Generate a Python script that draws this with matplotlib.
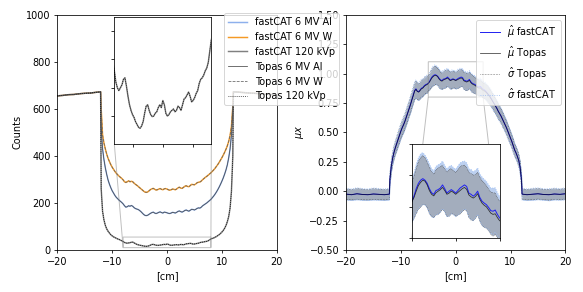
import numpy as np
import matplotlib

matplotlib.use("Agg")

import matplotlib.pyplot as plt


# positions across the detector [cm]
open_left_cm = [-20, -19, -18, -17, -16, -15, -14, -13, -12.1]
open_right_cm = [12.1, 13, 14, 15, 16, 17, 18, 19, 20]
phantom_cm = np.arange(-12.0, 12.001, 0.25)

# detector counts, open field either side of the phantom
counts_open_left = [655, 657, 660, 661, 664, 666, 667, 670, 672]
counts_open_right = [672, 671, 669, 667, 666, 664, 662, 661, 659]

# detector counts behind the phantom, -12 .. 12 cm every 0.25 cm
counts_al = [
    520, 430, 385, 350, 322, 298, 280, 265, 252,
    242, 232, 224, 218, 212, 207, 202, 196, 188, 182,
    184, 188, 186, 189, 186, 180, 176, 174, 172,
    168, 163, 157, 151, 147, 146, 148, 152, 156, 159,
    161, 157, 155, 157, 160, 162, 159, 157, 161, 160,
    158, 156, 155, 157, 160, 159, 157, 160, 164, 166,
    163, 161, 164, 168, 170, 167, 165, 169, 173, 172, 170,
    173, 177, 179, 178, 182, 188, 192, 196, 200, 205,
    210, 215, 222, 229, 237, 246, 256, 267, 279, 292,
    306, 322, 340, 362, 392, 430, 490, 600,
]
counts_w = [
    600, 490, 455, 430, 408, 390, 376, 363, 352,
    343, 334, 326, 320, 314, 309, 304, 298, 290, 287,
    290, 294, 290, 292, 290, 284, 279, 275, 270,
    265, 260, 255, 250, 246, 245, 247, 252, 257, 260,
    262, 258, 255, 256, 259, 261, 258, 256, 260, 261,
    259, 256, 254, 256, 259, 258, 256, 259, 264, 267,
    263, 262, 266, 271, 273, 270, 269, 274, 279, 278, 277,
    281, 286, 288, 289, 293, 299, 304, 309, 313, 318,
    323, 328, 334, 340, 347, 355, 363, 372, 382, 392,
    403, 415, 428, 443, 462, 487, 525, 610,
]
counts_kvp = [
    260, 165, 128, 105, 90, 80, 72, 65, 60,
    56, 53, 50, 47, 45, 42, 39, 36, 32, 30,
    29, 30, 31, 33, 33.5, 30.5, 27, 24, 22,
    20.5, 19.5, 18, 17, 16, 15.7, 16.5, 18, 21, 23.5,
    24, 22, 20.5, 19.8, 20, 21, 21.5, 23, 24, 23,
    25.5, 24, 21, 20, 20.5, 21.5, 22, 22.5, 21.5, 22,
    23.5, 23, 22, 24, 26, 26.5, 27.5, 28.5, 27, 25, 25.5,
    26.5, 28, 29, 31.5, 33, 33.5, 34.5, 36, 37, 39,
    43, 47, 49, 51, 54, 57, 61, 65, 70, 76,
    83, 92, 104, 120, 142, 178, 250, 400,
]

# attenuation line integral
mu_open_left = [-0.025, -0.03, -0.022, -0.028, -0.03, -0.024, -0.027, -0.03, -0.025]
mu_open_right = [-0.025, -0.03, -0.026, -0.022, -0.028, -0.03, -0.024, -0.027, -0.022]
sigma_open_topas = [0.045, 0.044, 0.046, 0.045, 0.044, 0.046, 0.045, 0.044, 0.045]
sigma_open_fastcat = [0.05, 0.049, 0.051, 0.05, 0.049, 0.051, 0.05, 0.049, 0.05]

mu_fastcat = [
    0.10, 0.21, 0.28, 0.33, 0.37, 0.405, 0.44, 0.475, 0.51,
    0.54, 0.565, 0.595, 0.63, 0.665, 0.70, 0.735, 0.775, 0.815, 0.855,
    0.87, 0.85, 0.845, 0.86, 0.875, 0.88, 0.895, 0.905, 0.91,
    0.918, 0.935, 0.958, 0.975, 0.985, 0.99, 0.985, 0.975, 0.958, 0.945,
    0.94, 0.952, 0.955, 0.96, 0.97, 0.958, 0.944, 0.95, 0.955, 0.95,
    0.944, 0.952, 0.96, 0.965, 0.97, 0.965, 0.944, 0.94, 0.934, 0.94,
    0.95, 0.93, 0.918, 0.912, 0.907, 0.898, 0.888, 0.886, 0.89, 0.876, 0.865,
    0.86, 0.848, 0.834, 0.82, 0.805, 0.785, 0.765, 0.745, 0.725, 0.705,
    0.68, 0.66, 0.64, 0.615, 0.59, 0.565, 0.54, 0.51, 0.48, 0.45,
    0.42, 0.385, 0.35, 0.325, 0.295, 0.26, 0.2, 0.09,
]
mu_topas = [
    0.10, 0.21, 0.28, 0.33, 0.37, 0.405, 0.44, 0.475, 0.51,
    0.54, 0.565, 0.595, 0.63, 0.665, 0.70, 0.735, 0.775, 0.81, 0.85,
    0.865, 0.848, 0.842, 0.855, 0.87, 0.876, 0.89, 0.9, 0.905,
    0.915, 0.93, 0.95, 0.968, 0.978, 0.985, 0.982, 0.97, 0.952, 0.94,
    0.935, 0.945, 0.95, 0.955, 0.962, 0.952, 0.94, 0.944, 0.95, 0.946,
    0.94, 0.946, 0.952, 0.958, 0.962, 0.956, 0.938, 0.932, 0.928, 0.933,
    0.942, 0.924, 0.912, 0.905, 0.9, 0.89, 0.88, 0.876, 0.878, 0.866, 0.856,
    0.852, 0.842, 0.83, 0.816, 0.8, 0.782, 0.762, 0.743, 0.723, 0.703,
    0.68, 0.66, 0.64, 0.615, 0.59, 0.565, 0.54, 0.51, 0.48, 0.45,
    0.42, 0.385, 0.35, 0.325, 0.295, 0.26, 0.2, 0.09,
]
sigma_topas = [
    0.05, 0.05, 0.052, 0.055, 0.055, 0.058, 0.06, 0.06, 0.062,
    0.063, 0.064, 0.062, 0.065, 0.066, 0.064, 0.067, 0.068, 0.066, 0.07,
    0.072, 0.07, 0.068, 0.07, 0.072, 0.071, 0.069, 0.07, 0.072,
    0.064, 0.068, 0.072, 0.076, 0.079, 0.078, 0.075, 0.072, 0.074, 0.071,
    0.069, 0.072, 0.074, 0.073, 0.07, 0.068, 0.071, 0.074, 0.072, 0.069,
    0.07, 0.073, 0.075, 0.074, 0.071, 0.069, 0.072, 0.074, 0.073, 0.07,
    0.068, 0.07, 0.072, 0.071, 0.068, 0.066, 0.067, 0.069, 0.066, 0.063, 0.062,
    0.064, 0.066, 0.065, 0.067, 0.066, 0.064, 0.065, 0.066, 0.064, 0.063,
    0.064, 0.062, 0.061, 0.062, 0.06, 0.059, 0.06, 0.058, 0.057, 0.056,
    0.056, 0.055, 0.054, 0.053, 0.052, 0.051, 0.05, 0.05,
]
sigma_fastcat = [
    0.055, 0.055, 0.057, 0.06, 0.06, 0.063, 0.065, 0.066, 0.067,
    0.068, 0.069, 0.068, 0.07, 0.071, 0.07, 0.072, 0.073, 0.072, 0.075,
    0.077, 0.075, 0.074, 0.076, 0.077, 0.076, 0.074, 0.075, 0.077,
    0.07, 0.073, 0.077, 0.081, 0.084, 0.083, 0.08, 0.078, 0.079, 0.077,
    0.075, 0.077, 0.079, 0.078, 0.076, 0.074, 0.076, 0.079, 0.077, 0.075,
    0.076, 0.078, 0.08, 0.079, 0.076, 0.075, 0.077, 0.079, 0.078, 0.076,
    0.074, 0.075, 0.077, 0.076, 0.074, 0.072, 0.072, 0.074, 0.071, 0.069, 0.068,
    0.069, 0.071, 0.07, 0.072, 0.071, 0.069, 0.07, 0.071, 0.069, 0.068,
    0.069, 0.067, 0.066, 0.067, 0.065, 0.064, 0.065, 0.063, 0.062, 0.061,
    0.061, 0.06, 0.059, 0.058, 0.057, 0.056, 0.055, 0.055,
]


def profile(left, middle, right):
    return np.concatenate([left, middle, right])


x = profile(open_left_cm, phantom_cm, open_right_cm)
al = profile(counts_open_left, counts_al, counts_open_right)
w = profile(counts_open_left, counts_w, counts_open_right)
kvp = profile(counts_open_left, counts_kvp, counts_open_right)
mu_f = profile(mu_open_left, mu_fastcat, mu_open_right)
mu_t = profile(mu_open_left, mu_topas, mu_open_right)
sig_t = profile(sigma_open_topas, sigma_topas, sigma_open_topas)
sig_f = profile(sigma_open_fastcat, sigma_fastcat, sigma_open_fastcat)

DPI = 70
fig = plt.figure(figsize=(583 / DPI, 292 / DPI), dpi=DPI)
ax1 = fig.add_axes([57.3 / 583, 42 / 292, 219.4 / 583, 235.3 / 292])
ax2 = fig.add_axes([346 / 583, 42 / 292, 219.4 / 583, 235.3 / 292])
ax1.set_zorder(2)

light_blue = "#8db0ec"
orange = "#f59a25"


def draw_counts(ax):
    ax.plot(x, al, color=light_blue, lw=1.5, label="fastCAT 6 MV Al")
    ax.plot(x, w, color=orange, lw=1.5, label="fastCAT 6 MV W")
    ax.plot(x, kvp, color="0.5", lw=1.5, label="fastCAT 120 kVp")
    ax.plot(x, al, color="0.3", lw=0.8, label="Topas 6 MV Al")
    ax.plot(x, w, color="0.4", lw=0.8, ls="--", label="Topas 6 MV W")
    ax.plot(x, kvp, color="k", lw=0.8, ls=":", label="Topas 120 kVp")


def draw_mu(ax, with_labels):
    ax.fill_between(x, mu_f - sig_f, mu_f + sig_f, color="#bcd0f0", lw=0)
    ax.fill_between(x, mu_t - sig_t, mu_t + sig_t, color="#a3adbd", lw=0)
    ax.plot(x, mu_t + sig_t, color="0.15", lw=0.6, ls=":",
            label=r"$\hat{\sigma}$ Topas" if with_labels else None)
    ax.plot(x, mu_t - sig_t, color="0.15", lw=0.6, ls=":")
    ax.plot(x, mu_f + sig_f, color="#9fc0f5", lw=0.9, ls=":",
            label=r"$\hat{\sigma}$ fastCAT" if with_labels else None)
    ax.plot(x, mu_f - sig_f, color="#9fc0f5", lw=0.9, ls=":")
    ax.plot(x, mu_f, color="#2020f0", lw=1.0,
            label=r"$\hat{\mu}$ fastCAT" if with_labels else None)
    ax.plot(x, mu_t, color="k", lw=0.8, alpha=0.75,
            label=r"$\hat{\mu}$ Topas" if with_labels else None)


# left: counts
draw_counts(ax1)
ax1.set_xlim(-20, 20)
ax1.set_ylim(0, 1000)
ax1.set_xticks([-20, -10, 0, 10, 20])
ax1.set_xlabel("[cm]")
ax1.set_ylabel("Counts")

ins1 = ax1.inset_axes([0.26, 0.449, 0.442, 0.541])
draw_counts(ins1)
ins1.set_xlim(-8, 8)
ins1.set_ylim(10, 55)
ins1.set_xticks([-5, 0, 5])
ins1.set_yticks([20, 30, 40, 50])
ins1.set_xticklabels([])
ins1.set_yticklabels([])
ax1.indicate_inset_zoom(ins1, edgecolor="0.5")

ax1.legend(loc="upper left", bbox_to_anchor=(0.76, 1.006), borderaxespad=0)

# right: mu x
draw_mu(ax2, True)
ax2.set_xlim(-20, 20)
ax2.set_ylim(-0.5, 1.5)
ax2.set_xticks([-20, -10, 0, 10, 20])
ax2.set_yticks(np.arange(-0.5, 1.51, 0.25))
ax2.set_xlabel("[cm]")
ax2.set_ylabel(r"$\mu x$")

ins2 = ax2.inset_axes([-8, -0.4, 16, 0.8], transform=ax2.transData)
draw_mu(ins2, False)
ins2.set_xlim(-5, 5)
ins2.set_ylim(0.8, 1.1)
ins2.set_xticks([-5, 0, 5])
ins2.set_yticks([0.8, 0.9, 1.0, 1.1])
ins2.set_xticklabels([])
ins2.set_yticklabels([])
ax2.indicate_inset_zoom(ins2, edgecolor="0.5")

handles, labels = ax2.get_legend_handles_labels()
order = [labels.index(s) for s in [r"$\hat{\mu}$ fastCAT", r"$\hat{\mu}$ Topas",
                                   r"$\hat{\sigma}$ Topas", r"$\hat{\sigma}$ fastCAT"]]
ax2.legend([handles[i] for i in order], [labels[i] for i in order], loc="upper right")

fig.savefig("out.png", dpi=DPI)
